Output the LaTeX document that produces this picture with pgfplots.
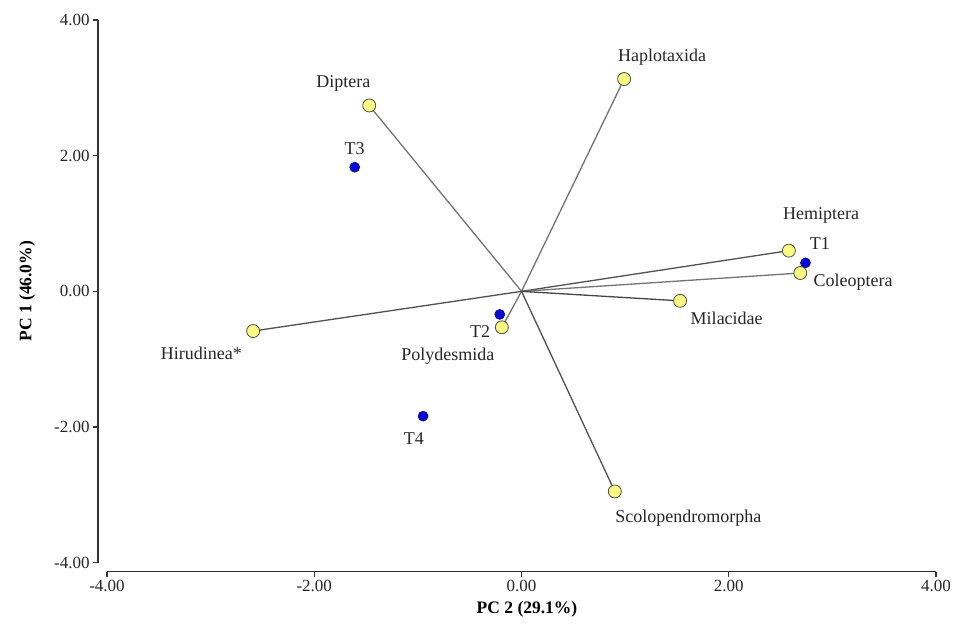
\documentclass[border=0pt]{standalone}
\usepackage{pgfplots}
\pgfplotsset{compat=1.18}
\usepackage{fontspec}
\setmainfont{Liberation Serif}

\definecolor{ptyellow}{RGB}{250,250,130}
\definecolor{ptblue}{RGB}{10,10,215}
\definecolor{vecgray}{RGB}{115,115,115}

\begin{document}
\begin{tikzpicture}[lbl/.style={font=\fontsize{18}{21}\selectfont, text=black!85}]
\begin{axis}[
    scale only axis,
    width=829pt, height=542.7pt,
    xmin=-4, xmax=4, ymin=-4, ymax=4,
    axis x line=bottom, axis y line=left,
    axis x line shift=9pt, axis y line shift=9pt,
    axis line style={-, black!80, line width=1.1pt},
    tick align=outside, major tick length=5pt,
    tick style={black!80, line width=1.1pt},
    xtick={-4,-2,0,2,4}, ytick={-4,-2,0,2,4},
    minor tick num=0,
    /pgf/number format/.cd, fixed, fixed zerofill, precision=2, assume math mode=true,
    /pgfplots/.cd,
    ticklabel style={font=\fontsize{17}{20}\selectfont, text=black!85},
    xlabel={\textbf{PC 2 (29.1\%)}},
    ylabel={\textbf{PC 1 (46.0\%)}},
    xlabel style={at={(axis description cs:0.5066,-0.0866)}, anchor=center, font=\fontsize{17.5}{20}\selectfont},
    ylabel style={at={(axis description cs:-0.0965,0.5)}, anchor=center, rotate=0, font=\fontsize{17.5}{20}\selectfont},
    clip=false,
]
% species vectors from the origin
\addplot[vecgray, line width=1.3pt] coordinates {(0,0) (-1.47,2.74)};
\addplot[vecgray, line width=1.3pt] coordinates {(0,0) (0.99,3.13)};
\addplot[vecgray!70!black, line width=1.3pt] coordinates {(0,0) (2.58,0.60)};
\addplot[vecgray, line width=1.3pt] coordinates {(0,0) (2.69,0.27)};
\addplot[vecgray!60!black, line width=1.3pt] coordinates {(0,0) (1.53,-0.14)};
\addplot[vecgray!70!black, line width=1.3pt] coordinates {(0,0) (-2.59,-0.585)};
\addplot[vecgray, line width=1.3pt] coordinates {(0,0) (-0.19,-0.53)};
\addplot[vecgray!70!black, line width=1.3pt] coordinates {(0,0) (0.90,-2.95)};

% treatments
\addplot[only marks, mark=*, mark size=5pt, mark options={fill=ptblue, draw=ptblue!60!black, line width=0.6pt}]
coordinates {(2.74,0.42) (-0.21,-0.34) (-1.61,1.83) (-0.95,-1.84)};

% species
\addplot[only marks, mark=*, mark size=6.5pt, mark options={fill=ptyellow, draw=black!70, line width=0.8pt}]
coordinates {(-1.47,2.74) (0.99,3.13) (2.58,0.60) (2.69,0.27) (1.53,-0.14) (-2.59,-0.585) (-0.19,-0.53) (0.90,-2.95)};

\node[lbl] at (axis cs:-1.72,3.07) {Diptera};
\node[lbl] at (axis cs:1.356,3.45) {Haplotaxida};
\node[lbl] at (axis cs:2.89,1.12) {Hemiptera};
\node[lbl] at (axis cs:2.88,0.71) {T1};
\node[lbl] at (axis cs:3.20,0.13) {Coleoptera};
\node[lbl] at (axis cs:1.98,-0.40) {Milacidae};
\node[lbl] at (axis cs:-3.09,-0.91) {Hirudinea*};
\node[lbl] at (axis cs:-0.40,-0.59) {T2};
\node[lbl] at (axis cs:-0.71,-0.96) {Polydesmida};
\node[lbl] at (axis cs:-1.04,-2.17) {T4};
\node[lbl] at (axis cs:1.61,-3.35) {Scolopendromorpha};
\node[lbl] at (axis cs:-1.61,2.11) {T3};

\coordinate (bbl) at (axis cs:-5.033,-4.903);
\coordinate (btr) at (axis cs:4.183,4.295);
\end{axis}
\pgfresetboundingbox
\path[use as bounding box] (bbl) rectangle (btr);
\end{tikzpicture}
\end{document}
